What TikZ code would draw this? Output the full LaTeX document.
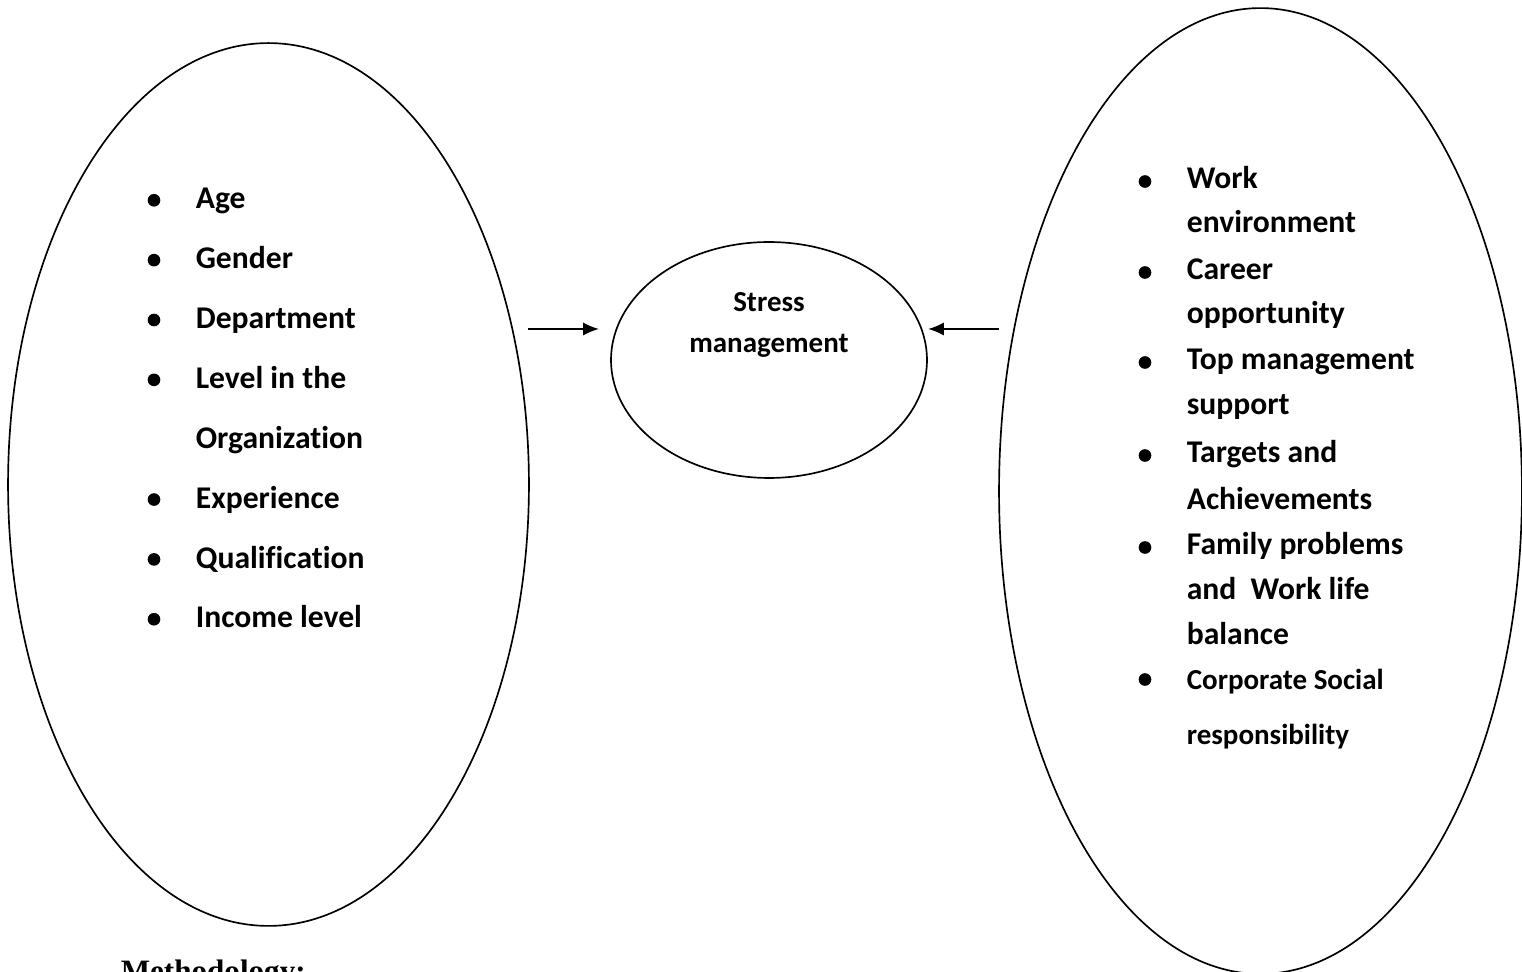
\documentclass[tikz,border=0pt]{standalone}
\usepackage{fontspec}
\setmainfont{Carlito}[Ligatures=NoCommon]
\newfontfamily\headfont{Liberation Serif}
\usetikzlibrary{shapes.geometric,arrows.meta}

\begin{document}
\begin{tikzpicture}[x=0.02cm,y=-0.02cm,line width=.95pt,
    oval/.style={draw,ellipse,inner sep=0pt},
    item/.style={anchor=base west,inner sep=0pt,font=\fontsize{18}{22}\selectfont\bfseries},
    smallitem/.style={item,font=\fontsize{16.5}{20}\selectfont\bfseries},
    dot/.style={circle,fill,inner sep=0pt,minimum size=7.2pt},
    link/.style={-{Latex[length=9pt,width=7.5pt]},line width=1.1pt}]
  \useasboundingbox (0,0) rectangle (1522,972);
  \node[oval,minimum width=10.42cm,minimum height=17.66cm] (personal) at (268.5,484.5) {};
  \node[oval,minimum width=6.32cm,minimum height=4.72cm] (stress) at (769,360) {};
  \node[oval,minimum width=10.46cm,minimum height=19.32cm] (work) at (1260.5,491) {};
  \node[smallitem,anchor=base] (stressA) at (769,312) {Stress};
  \node[smallitem,anchor=base] (stressB) at (769,353) {management};
  % personal factors
  \foreach \txt [count=\i] in {Age,Gender,Department,Level in the,Organization,Experience,Qualification,Income level}
    \node[item] (p\i) at (195,{209+59.85*(\i-1)}) {\txt};
  \foreach \i in {1,2,3,4,6,7,8}
    \node[dot] (pd\i) at (154,{200.3+59.85*(\i-1)}) {};
  % organizational factors
  \foreach \yy/\txt [count=\i] in {189/Work,233/environment,280/Career,324/opportunity,370/Top management,415/support,463/Targets and,510/Achievements,555/Family problems,600/and~ Work life,645/balance}
    \node[item] (w\i) at (1186,\yy) {\txt};
  \node[smallitem] (w12) at (1186,690) {Corporate Social};
  \node[smallitem] (w13) at (1186,745) {responsibility};
  \foreach \yy [count=\i] in {181.5,272.5,362.5,455.5,547.5,679.5}
    \node[dot] (wd\i) at (1145,\yy) {};
  \coordinate (lfrom) at (528,329);
  \coordinate (lto) at (599,329);
  \coordinate (rfrom) at (999,329);
  \coordinate (rto) at (928,329);
  \draw[link] (lfrom) -- (lto);
  \draw[link] (rfrom) -- (rto);
  \node[anchor=base west,inner sep=0pt,font=\headfont\bfseries\fontsize{17.7}{20}\selectfont] (method) at (120,981) {Methodology:};
\end{tikzpicture}
\end{document}
